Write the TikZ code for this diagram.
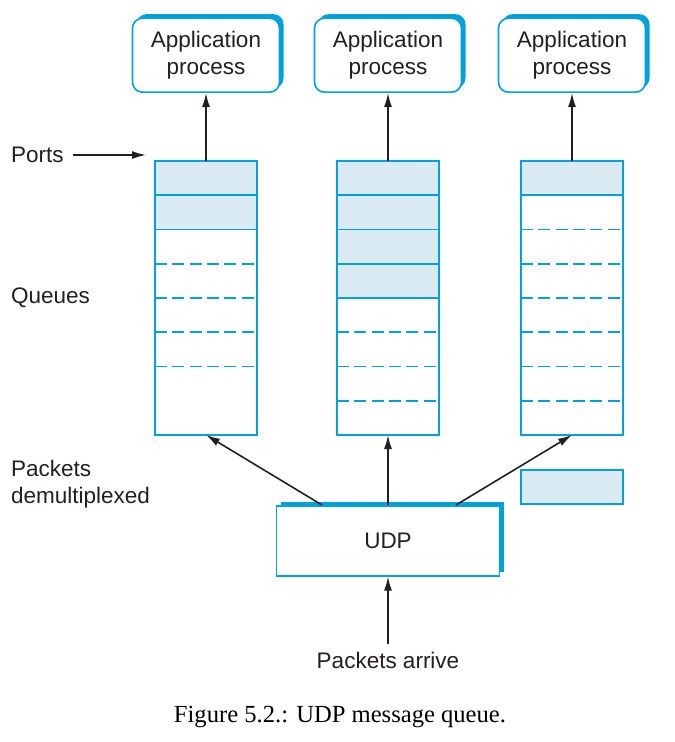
\documentclass[tikz,border=0pt]{standalone}
\usepackage{fontspec}
\setmainfont{Liberation Serif}
\setsansfont{Liberation Sans}
\usepackage{tikz}
\usetikzlibrary{positioning,arrows.meta,shadows}

\definecolor{qblue}{RGB}{0,160,218}
\definecolor{qfill}{RGB}{218,235,244}
\definecolor{ink}{RGB}{35,31,32}

\begin{document}
\begin{tikzpicture}[
    x=0.5pt, y=-0.5pt, color=ink, line width=0.8pt,
    font=\sffamily\fontsize{11.25}{13.5}\selectfont,
    app/.style = {draw=qblue, fill=white, line width=0.8pt, minimum width=73.5pt, minimum height=37pt, rounded corners=5pt, align=center,
                  general shadow={shadow xshift=2pt, shadow yshift=2pt, fill=qblue}},
    udpbox/.style = {draw=qblue, fill=white, line width=0.8pt, minimum width=111.5pt, minimum height=35pt,
                  general shadow={shadow xshift=2pt, shadow yshift=2pt, fill=qblue}},
    queue/.style = {draw=qblue, line width=0.8pt, minimum width=51pt, minimum height=137pt, outer sep=0pt},
    cell/.style = {draw=qblue, fill=qfill, line width=0.8pt, minimum width=51pt, minimum height=17.125pt, outer sep=0pt},
    sep/.style = {draw=qblue, line width=0.8pt, dash pattern=on 6pt off 2.65pt},
    lbl/.style = {inner sep=0pt, outer sep=4.5pt, align=left},
    > = {Latex[length=7pt, width=4pt]}
]
\useasboundingbox (0,0) rectangle (674,742);

% queues
\node (q1) [queue] at (206,298) {};
\node (q2) [queue] at (388,298) {};
\node (q3) [queue] at (572,298) {};

\node (c1a) [cell, below=0pt of q1.north] {};
\node (c1b) [cell, below=0pt of c1a] {};
\node (c2a) [cell, below=0pt of q2.north] {};
\node (c2b) [cell, below=0pt of c2a] {};
\node (c2c) [cell, below=0pt of c2b] {};
\node (c2d) [cell, below=0pt of c2c] {};
\node (c3a) [cell, below=0pt of q3.north] {};

\foreach \k in {3,...,6} \draw[sep] ([yshift=-\k*17.125pt]q1.north west) -- ([yshift=-\k*17.125pt]q1.north east);
\foreach \k in {5,...,7} \draw[sep] ([yshift=-\k*17.125pt]q2.north west) -- ([yshift=-\k*17.125pt]q2.north east);
\foreach \k in {2,...,7} \draw[sep] ([yshift=-\k*17.125pt]q3.north west) -- ([yshift=-\k*17.125pt]q3.north east);

% processes
\node (app1) [app, above=34pt of q1] {Application \\ process};
\node (app2) [app, above=34pt of q2] {Application \\ process};
\node (app3) [app, above=34pt of q3] {Application \\ process};

\node (udp) [udpbox, below=35pt of q2] {UDP};
\node (pkt) [cell, minimum height=17pt, below=17.5pt of q3] {};

% labels
\node (ports) [lbl, anchor=west] at (2,155) {Ports};
\coordinate (portend) at (146,155);
\node (queues) [lbl, anchor=west] at (2,298) {Queues};
\node (demux) [lbl, anchor=west] at (2,484) {Packets \\ demultiplexed};
\node (arrive) [lbl, below=33.5pt of udp] {Packets arrive};
\node (caption) [font=\rmfamily\fontsize{12.3}{14}\selectfont, text=black] at (340,717) {Figure 5.2.: UDP message queue.};

\draw[->] (q1) to (app1);
\draw[->] (q2) to (app2);
\draw[->] (q3) to (app3);
\draw[->] (ports) to (portend);
\draw[->] ([xshift=-33pt]udp.north) to (q1.south);
\draw[->] (udp) to (q2);
\draw[->] ([xshift=34pt]udp.north) to (q3.south);
\draw[->] (arrive) to (udp);
\end{tikzpicture}
\end{document}
